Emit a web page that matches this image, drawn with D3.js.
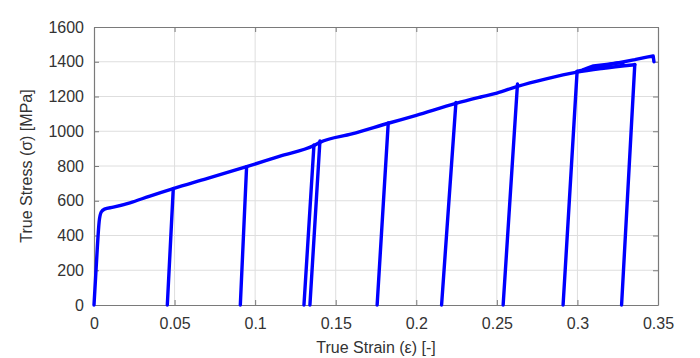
<!DOCTYPE html>
<html>
<head>
<meta charset="utf-8">
<script src="https://cdn.jsdelivr.net/npm/d3@7"></script>
<style>
  body { margin: 0; background: #fff; }
  svg { display: block; font-family: "Liberation Sans", Arial, sans-serif; }
</style>
</head>
<body>
<div id="chart"></div>
<script>
// Chart size and plot margins.
const WIDTH = 700;
const HEIGHT = 358;
const M = { top: 27, right: 42, bottom: 53, left: 94 };

// Loading envelope (strain, stress in MPa).
const envStrain = [0, 0.001, 0.002, 0.0032, 0.0045, 0.0065, 0.012, 0.0223, 0.0347, 0.0492,
  0.07, 0.0947, 0.115, 0.1365, 0.1402, 0.16, 0.1826, 0.2, 0.2246, 0.24, 0.25,
  0.2628, 0.28, 0.2998, 0.315, 0.3356];
const envStress = [0, 160, 320, 480, 535, 552, 563, 588, 627, 670,
  727, 796, 856, 918, 936, 985, 1046, 1092, 1160, 1197, 1220,
  1258, 1300, 1340, 1361, 1383];

// Unloading lines: from peak down to zero stress.
const peakStrain = [0.0492, 0.0947, 0.1365, 0.1402, 0.1826, 0.2246, 0.2628, 0.2998, 0.3356];
const peakStress = [671, 796, 921, 944, 1048, 1166, 1272, 1345, 1385];
const zeroStrain = [0.0455, 0.0908, 0.1303, 0.134, 0.1757, 0.2157, 0.2539, 0.2911, 0.3274];

// Upper reload branch after the 7th unload, and the final segment.
const loopStrain = [0.2998, 0.303, 0.307, 0.31, 0.318, 0.326, 0.3285];
const loopStress = [1343, 1352, 1366, 1376, 1385, 1394, 1384];
const tailStrain = [0.2998, 0.32, 0.3356, 0.343, 0.347, 0.3475];
const tailStress = [1343, 1384, 1412, 1427, 1433, 1400];

const xTicks = [0, 0.05, 0.1, 0.15, 0.2, 0.25, 0.3, 0.35];
const yTicks = [0, 200, 400, 600, 800, 1000, 1200, 1400, 1600];

const svg = d3.select("#chart").append("svg")
  .attr("width", WIDTH)
  .attr("height", HEIGHT);

const iw = WIDTH - M.left - M.right;
const ih = HEIGHT - M.top - M.bottom;

const x = d3.scaleLinear().domain([0, 0.35]).range([M.left, M.left + iw]);
const y = d3.scaleLinear().domain([0, 1600]).range([M.top + ih, M.top]);

// Grid lines.
svg.append("g").selectAll("line.gx")
  .data(xTicks.slice(1, -1))
  .join("line")
  .attr("x1", (d) => x(d)).attr("x2", (d) => x(d))
  .attr("y1", M.top).attr("y2", M.top + ih)
  .attr("stroke", "#dedede").attr("stroke-width", 1);

svg.append("g").selectAll("line.gy")
  .data(yTicks.slice(1, -1))
  .join("line")
  .attr("x1", M.left).attr("x2", M.left + iw)
  .attr("y1", (d) => y(d)).attr("y2", (d) => y(d))
  .attr("stroke", "#dedede").attr("stroke-width", 1);

// Axes with inward ticks on all sides.
const fmtX = (d) => (d === 0 ? "0" : String(+d.toFixed(2)));
const fmtY = d3.format("d");
const axStyle = (g) => {
  g.select(".domain").attr("stroke", "#7a7a7a").attr("stroke-width", 1.2);
  g.selectAll(".tick line").attr("stroke", "#7a7a7a");
  g.selectAll("text").attr("fill", "#333").style("font-size", "16px");
};

svg.append("g")
  .attr("transform", `translate(0,${M.top + ih})`)
  .call(d3.axisBottom(x).tickValues(xTicks).tickFormat(fmtX).tickSizeInner(-5).tickSizeOuter(0).tickPadding(13))
  .call(axStyle);
svg.append("g")
  .attr("transform", `translate(0,${M.top})`)
  .call(d3.axisTop(x).tickValues(xTicks).tickFormat("").tickSizeInner(-5).tickSizeOuter(0))
  .call(axStyle);
svg.append("g")
  .attr("transform", `translate(${M.left},0)`)
  .call(d3.axisLeft(y).tickValues(yTicks).tickFormat(fmtY).tickSizeInner(-5).tickSizeOuter(0).tickPadding(10))
  .call(axStyle);
svg.append("g")
  .attr("transform", `translate(${M.left + iw},0)`)
  .call(d3.axisRight(y).tickValues(yTicks).tickFormat("").tickSizeInner(-5).tickSizeOuter(0))
  .call(axStyle);

// Curves.
const line = d3.line().x((d) => x(d[0])).y((d) => y(d[1]));
const smooth = d3.line().curve(d3.curveMonotoneX).x((d) => x(d[0])).y((d) => y(d[1]));
const curves = svg.append("g")
  .attr("fill", "none")
  .attr("stroke", "#0000ff")
  .attr("stroke-width", 3.4)
  .attr("stroke-linejoin", "round")
  .attr("stroke-linecap", "round");

curves.append("path").attr("d", smooth(d3.zip(envStrain, envStress)));
curves.append("path").attr("d", line(d3.zip(loopStrain, loopStress)));
curves.append("path").attr("d", line(d3.zip(tailStrain, tailStress)));
peakStrain.forEach((s, i) => {
  curves.append("path").attr("d", line([[s, peakStress[i]], [zeroStrain[i], 0]]));
});

// Axis titles.
svg.append("text")
  .attr("x", M.left + iw / 2)
  .attr("y", 353)
  .attr("text-anchor", "middle")
  .attr("fill", "#333")
  .style("font-size", "16px")
  .text("True Strain (ε) [-]");

svg.append("text")
  .attr("transform", `translate(32,${M.top + ih / 2}) rotate(-90)`)
  .attr("text-anchor", "middle")
  .attr("fill", "#333")
  .style("font-size", "16px")
  .text("True Stress (σ) [MPa]");
</script>
</body>
</html>
